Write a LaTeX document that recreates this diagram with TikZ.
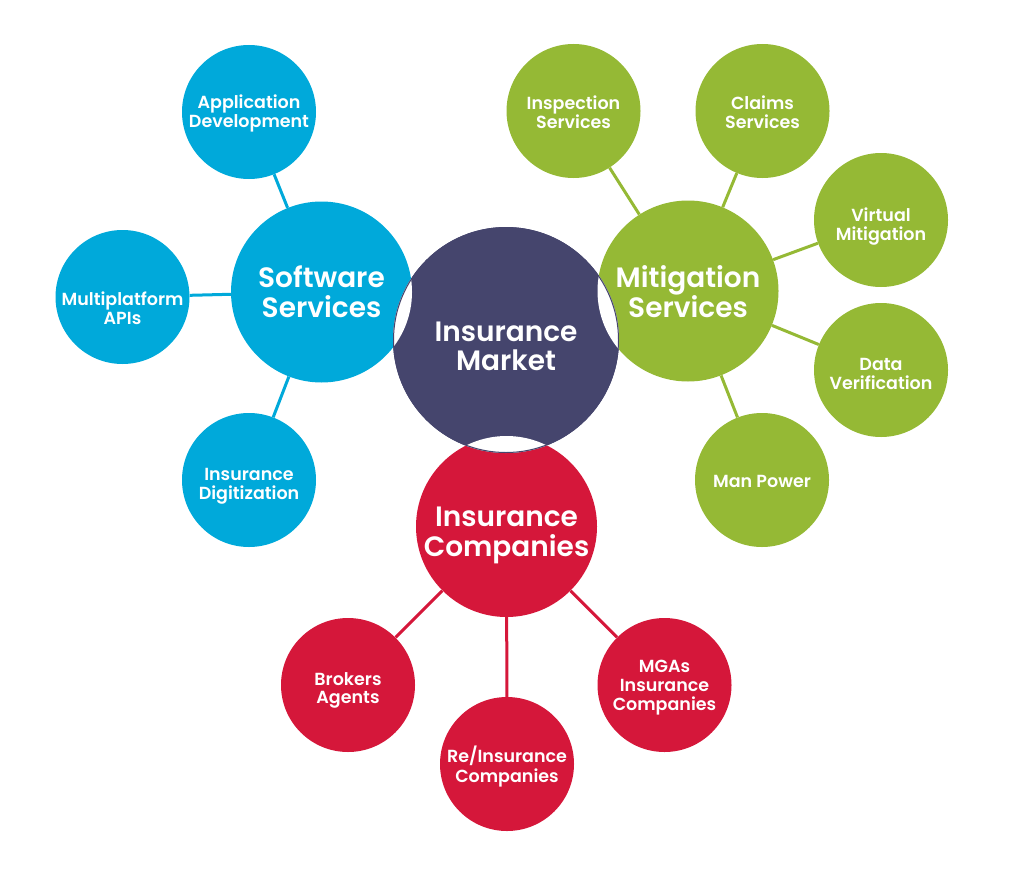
\documentclass[tikz,border=0pt]{standalone}
\usepackage{fontspec}
\setmainfont{Poppins}[BoldFont={Poppins SemiBold}]
\definecolor{swblue}{HTML}{00A9DA}
\definecolor{msgreen}{HTML}{95B935}
\definecolor{mkdark}{HTML}{45456D}
\definecolor{icred}{HTML}{D5173A}
\newcommand\lbl[2]{\raisebox{-#1}[\height][\depth]{\begin{tabular}{@{}c@{}}#2\end{tabular}}}
\tikzset{
  bubble/.style={circle, inner sep=0pt, text=white, align=center},
  big/.style={bubble, minimum size=181pt, font=\bfseries\fontsize{28}{29.5}\selectfont},
  small/.style={bubble, minimum size=134pt, font=\bfseries\fontsize{17.5}{18.5}\selectfont},
  link/.style={line width=3pt},
}
\begin{document}
\begin{tikzpicture}[x=1pt,y=-1pt]
\useasboundingbox (0,0) rectangle (1024,883);
% main branch circles
\node[big, fill=swblue] (sw) at (321.5,292) {\lbl{4pt}{Software\\Services}};
\node[big, fill=msgreen] (ms) at (688,291) {\lbl{5pt}{Mitigation\\Services}};
\node[big, fill=icred] (ic) at (506.5,526.5) {\lbl{9pt}{Insurance\\Companies}};
% leaves
\node[small, fill=swblue] (ad) at (249,112) {\lbl{2pt}{Application\\Development}};
\node[small, fill=swblue] (mp) at (122.5,297) {\lbl{14pt}{Multiplatform\\APIs}};
\node[small, fill=swblue] (id) at (249,480) {\lbl{6pt}{Insurance\\Digitization}};
\node[small, fill=msgreen] (is) at (573.5,111) {\lbl{4pt}{Inspection\\Services}};
\node[small, fill=msgreen] (cs) at (762.5,111) {\lbl{4pt}{Claims\\Services}};
\node[small, fill=msgreen] (vm) at (881,220) {\lbl{7pt}{Virtual\\Mitigation}};
\node[small, fill=msgreen] (dv) at (881,370) {\lbl{6pt}{Data\\Verification}};
\node[small, fill=msgreen] (mw) at (762,480) {\lbl{4pt}{Man Power}};
\node[small, fill=icred] (ba) at (348,685) {\lbl{6pt}{Brokers\\Agents}};
\node[small, fill=icred] (ri) at (507,764) {\lbl{3pt}{Re/Insurance\\Companies}};
\node[small, fill=icred] (mg) at (664.5,685) {\lbl{3pt}{MGAs\\Insurance\\Companies}};
% connectors
\draw[link, swblue] (sw) -- (ad);
\draw[link, swblue] (sw) -- (mp);
\draw[link, swblue] (sw) -- (id);
\draw[link, msgreen] (ms) -- (is);
\draw[link, msgreen] (ms) -- (cs);
\draw[link, msgreen] (ms) -- (vm);
\draw[link, msgreen] (ms) -- (dv);
\draw[link, msgreen] (ms) -- (mw);
\draw[link, icred] (ic) -- (ba);
\draw[link, icred] (ic) -- (ri);
\draw[link, icred] (ic) -- (mg);
% centre circle
\node[bubble, minimum size=226pt, fill=mkdark, font=\bfseries\fontsize{28}{29.5}\selectfont] (mk) at (506,340) {\lbl{10pt}{Insurance\\Market}};
\begin{scope}
  \clip (mk.center) circle (113pt);
  \fill[white] (sw.center) circle (90.5pt);
  \fill[white] (ms.center) circle (90.5pt);
  \fill[white] (ic.center) circle (90.5pt);
\end{scope}
\draw[mkdark, line width=1pt] (mk.center) circle (112.5pt);
\end{tikzpicture}
\end{document}
